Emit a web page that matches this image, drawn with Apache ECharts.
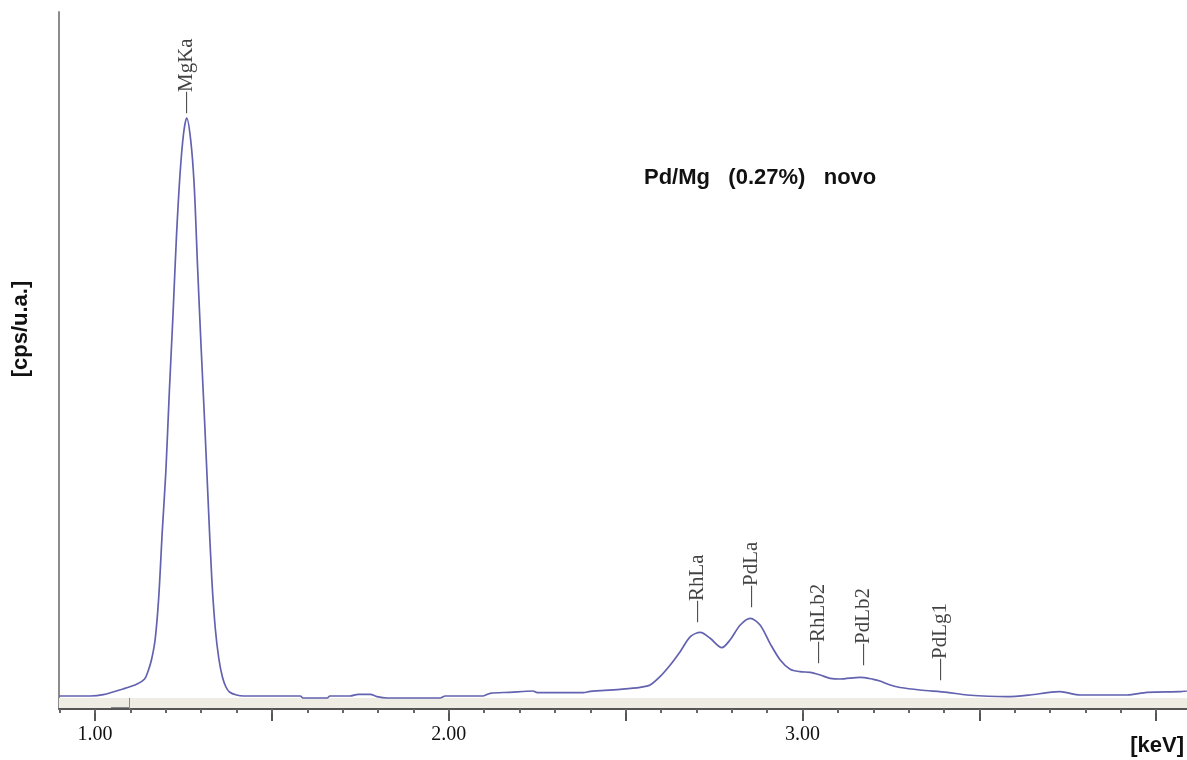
<!DOCTYPE html>
<html>
<head>
<meta charset="utf-8">
<script src="https://cdn.jsdelivr.net/npm/echarts@6/dist/echarts.min.js"></script>
<style>
  html, body { margin: 0; padding: 0; background: #ffffff; }
  #chart { width: 1187px; height: 760px; }
</style>
</head>
<body>
<div id="chart"></div>
<script>
// Spectrum samples (energy in keV, intensity in arbitrary units)
const energy = [
  0.898, 0.986, 1.023, 1.079, 1.119, 1.140, 1.150, 1.160, 1.170, 1.180,
  1.190, 1.200, 1.210, 1.220, 1.230, 1.240, 1.250, 1.259, 1.270, 1.280,
  1.290, 1.300, 1.310, 1.320, 1.330, 1.340, 1.350, 1.360, 1.370, 1.380,
  1.400, 1.420, 1.580,
  1.588, 1.656, 1.664, 1.721, 1.744, 1.778, 1.797, 1.826, 1.975, 1.990,
  2.097, 2.117, 2.173, 2.238, 2.250, 2.380, 2.400, 2.428, 2.484, 2.541,
  2.569, 2.597, 2.626, 2.654, 2.683, 2.711, 2.739, 2.772, 2.795, 2.824,
  2.852, 2.880, 2.908, 2.937, 2.965, 2.993, 3.022, 3.050, 3.078, 3.106,
  3.163, 3.200, 3.219, 3.248, 3.276, 3.332, 3.409, 3.465, 3.578, 3.644,
  3.692, 3.728, 3.785, 3.918, 3.974, 4.068, 4.087
];
const counts = [
  13, 13, 14.3, 20, 25, 30, 38, 50, 70, 112,
  178, 237, 318, 392, 472, 534, 575, 591, 570, 525,
  440, 360, 285, 205, 130, 80, 50, 32, 22, 17,
  14, 13, 13,
  11, 11, 13, 13, 14.7, 14.7, 12.3, 11, 11, 13,
  13, 15.7, 16.7, 18, 16.3, 16.3, 17.7, 18.3, 19.7, 21.7,
  24, 32.3, 44, 57.3, 72.3, 76.7, 70.7, 61.3, 69, 84,
  90.7, 84, 65.7, 49, 39.7, 37.3, 36.7, 34, 30.7, 30,
  31.7, 29.7, 28, 24, 21.5, 19, 16.7, 14, 12.3, 14,
  16.3, 17.3, 14, 14, 16.7, 17.3, 18
];

// Peak identification markers
const peakNames = ['MgKa', 'RhLa', 'PdLa', 'RhLb2', 'PdLb2', 'PdLg1'];
const peakEnergies = [1.259, 2.702, 2.857, 3.044, 3.171, 3.389];
const peakLabelHeights = [596, 87, 102, 46, 44, 29];

// Axis ticks and labels
const majorTicks = [1.0, 1.5, 2.0, 2.5, 3.0, 3.5, 4.0];
const minorTicks = [0.9,1.0,1.1,1.2,1.3,1.4,1.5,1.6,1.7,1.8,1.9,2.0,2.1,2.2,2.3,2.4,2.5,2.6,2.7,2.8,2.9,3.0,3.1,3.2,3.3,3.4,3.5,3.6,3.7,3.8,3.9,4.0];
const tickLabels = [1.0, 2.0, 3.0];

const titleText = 'Pd/Mg   (0.27%)   novo';
const xName = '[keV]';
const yName = '[cps/u.a.]';

const X_MIN = 0.898, X_MAX = 4.087, Y_MIN = 0, Y_MAX = 697;

const lineData = energy.map((e, i) => [e, counts[i]]);
const peakData = peakNames.map((n, i) => ({ name: n, value: [peakEnergies[i], peakLabelHeights[i]] }));

const chart = echarts.init(document.getElementById('chart'), null, { renderer: 'canvas' });

chart.setOption({
  backgroundColor: '#ffffff',
  animation: false,
  title: {
    text: titleText,
    left: 639,
    top: 162,
    textStyle: { fontFamily: 'Liberation Sans', fontWeight: 'bold', fontSize: 22, color: '#111' }
  },
  grid: { left: 59, right: 0, top: 12, bottom: 51, containLabel: false },
  xAxis: [
    {
      type: 'value', min: X_MIN, max: X_MAX, position: 'bottom',
      axisLine: { show: true, onZero: false, lineStyle: { color: '#555', width: 2 } },
      axisTick: { show: true, customValues: majorTicks, length: 12, lineStyle: { color: '#555', width: 2 } },
      axisLabel: {
        show: true, customValues: tickLabels, margin: 16,
        formatter: v => v.toFixed(2),
        fontFamily: 'Liberation Serif', fontSize: 20, color: '#111'
      },
      splitLine: { show: false }
    },
    {
      type: 'value', min: X_MIN, max: X_MAX, position: 'bottom', gridIndex: 0,
      axisLine: { show: false, onZero: false },
      axisTick: { show: true, customValues: minorTicks, length: 4, lineStyle: { color: '#666', width: 2 } },
      axisLabel: { show: false },
      splitLine: { show: false }
    }
  ],
  yAxis: {
    type: 'value', min: Y_MIN, max: Y_MAX,
    axisLine: { show: true, onZero: false, lineStyle: { color: '#8c8c8c', width: 2 } },
    axisTick: { show: false },
    axisLabel: { show: false },
    splitLine: { show: false }
  },
  graphic: [
    {
      type: 'text', x: 21, y: 329, rotation: Math.PI / 2,
      style: { text: yName, font: 'bold 22px "Liberation Sans"', fill: '#111', align: 'center', verticalAlign: 'middle' }
    },
    {
      type: 'text', x: 1184, y: 746,
      style: { text: xName, font: 'bold 22px "Liberation Sans"', fill: '#111', align: 'right', verticalAlign: 'middle' }
    }
  ],
  series: [
    {
      type: 'line',
      data: lineData,
      showSymbol: false,
      symbol: 'none',
      smooth: 0.3,
      silent: true,
      clip: true,
      z: 3,
      lineStyle: { color: '#6262b0', width: 1.7 },
      markArea: {
        silent: true,
        itemStyle: { color: '#efece3' },
        data: [[{ yAxis: 1 }, { yAxis: 11 }]]
      },
      markLine: {
        silent: true,
        symbol: 'none',
        label: { show: false },
        lineStyle: { color: '#8a8a8a', width: 1, type: 'solid' },
        data: [
          [{ coord: [1.045, 1.5] }, { coord: [1.097, 1.5] }],
          [{ coord: [1.097, 0] }, { coord: [1.097, 11] }]
        ]
      }
    },
    {
      type: 'scatter',
      data: peakData,
      symbolSize: 0,
      silent: true,
      z: 4,
      label: {
        show: true,
        position: 'inside',
        rotate: 90,
        align: 'left',
        verticalAlign: 'middle',
        formatter: p => '—' + p.name,
        fontFamily: 'Liberation Serif',
        fontSize: 21,
        color: '#111'
      }
    }
  ]
});
</script>
</body>
</html>
